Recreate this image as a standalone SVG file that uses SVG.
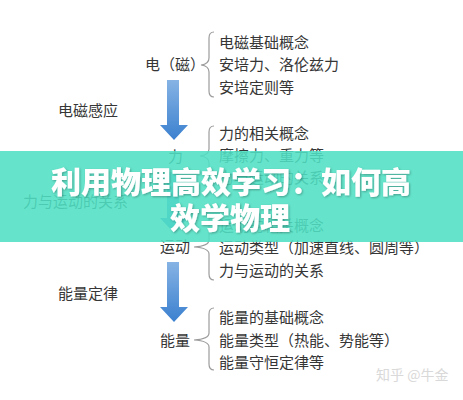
<svg xmlns="http://www.w3.org/2000/svg" width="463" height="400" viewBox="0 0 463 400">
<defs>
<linearGradient id="ag" x1="0" y1="0" x2="0" y2="1">
<stop offset="0" stop-color="#86b3e4"/>
<stop offset="1" stop-color="#3b80cf"/>
</linearGradient>
<filter id="sh" x="-10%" y="-30%" width="120%" height="160%">
<feDropShadow dx="1" dy="1" stdDeviation="1" flood-color="#000" flood-opacity="0.3"/>
</filter>
</defs>
<style>
text{font-family:"Noto Sans CJK SC","Noto Sans",sans-serif;}
.t{font-size:15px;fill:#363636;}
.br{fill:none;stroke:#9c9c9c;stroke-width:1.2;}
.ar{fill:url(#ag);}
.bn{font-size:30px;font-weight:900;fill:#ffffff;}
.wm{font-size:14px;fill:#d9d9d9;}
</style>
<rect width="463" height="400" fill="#ffffff"/>

<g id="connectors">
<path class="ar" d="M167 80H179V125H188L174 140L160 125H167Z"/>
<path class="ar" d="M167 172H179V218H188L174 233L160 218H167Z"/>
<path class="ar" d="M167 262H179V307H188L174 322L160 307H167Z"/>
<path class="br" d="M214 32Q209 32 209 38V58Q209 64 201 65Q209 66 209 72V91Q209 97 214 97"/>
<path class="br" d="M214 126Q209 126 209 132V149Q209 155 200 156Q209 157 209 163V184Q209 190 214 190"/>
<path class="br" d="M214 214Q209 214 209 220V240Q209 246 194 247Q209 248 209 254V274Q209 280 214 280"/>
<path class="br" d="M214 308Q209 308 209 314V333Q209 339 194 340Q209 341 209 347V364Q209 370 214 370"/>
</g>

<g id="node-dianci">
<text class="t" x="145" y="70">电（磁）</text>
<text class="t" x="219" y="47.5">电磁基础概念</text>
<text class="t" x="219" y="70">安培力、洛伦兹力</text>
<text class="t" x="219" y="92.5">安培定则等</text>
</g>
<g id="label-diancigan">
<text class="t" x="58" y="115.5">电磁感应</text>
</g>
<g id="node-li">
<text class="t" x="168" y="161.5">力</text>
<text class="t" x="219" y="138.5">力的相关概念</text>
<text class="t" x="219" y="161">摩擦力、重力等</text>
<text class="t" x="219" y="183">力与运动的关系</text>
</g>
<g id="label-liyu">
<text class="t" x="23" y="207">力与运动的关系</text>
</g>
<g id="node-yundong">
<text class="t" x="160" y="252">运动</text>
<text class="t" x="219" y="231">运动的相关概念</text>
<text class="t" x="219" y="253">运动类型（加速直线、圆周等）</text>
<text class="t" x="219" y="276">力与运动的关系</text>
</g>
<g id="label-nengliang">
<text class="t" x="58" y="298.5">能量定律</text>
</g>
<g id="node-nengliang">
<text class="t" x="160" y="345.5">能量</text>
<text class="t" x="219" y="323">能量的基础概念</text>
<text class="t" x="219" y="345.5">能量类型（热能、势能等）</text>
<text class="t" x="219" y="368">能量守恒定律等</text>
</g>

<g id="watermark">
<text class="wm" x="376" y="380">知乎 @牛金</text>
</g>

<g id="banner">
<rect x="0" y="151" width="463" height="91" fill="#50e0c4" fill-opacity="0.88"/>
<g filter="url(#sh)">
<text class="bn" x="231" y="193" text-anchor="middle">利用物理高效学习：如何高</text>
<text class="bn" x="230" y="229" text-anchor="middle">效学物理</text>
</g>
</g>
</svg>
